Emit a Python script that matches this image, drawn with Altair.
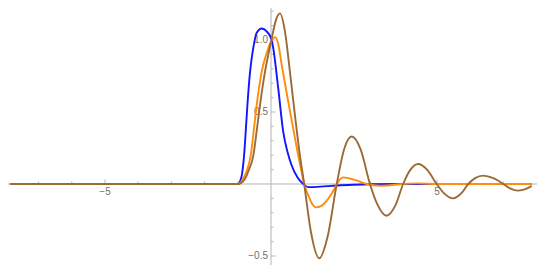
import altair as alt
import pandas as pd

# ---- curve values ----
blue_x = [-7.85, -1.0, -0.93, -0.88, -0.81, -0.76, -0.71, -0.63, -0.53, -0.43, -0.28, -0.13, 0.02, 0.07,
          0.22, 0.37, 0.5, 0.62, 0.8, 0.97, 1.12, 1.4, 1.7, 2.0, 2.5, 3.0, 4.0, 7.85]
blue_y = [0, 0, 0.02, 0.06, 0.20, 0.37, 0.55, 0.78, 0.95, 1.05, 1.08, 1.06, 1.0, 0.94,
          0.66, 0.36, 0.22, 0.13, 0.045, 0.0, -0.022, -0.02, -0.015, -0.01, -0.005, -0.002, 0, 0]

orange_x = [-7.85, -1.0, -0.9, -0.81, -0.73, -0.61, -0.52, -0.43, -0.28, -0.1, 0.0, 0.12, 0.22, 0.32,
            0.52, 0.72, 0.92, 1.0, 1.12, 1.22, 1.35, 1.53, 1.65, 1.8, 1.9, 1.98, 2.18, 2.5, 2.88,
            3.3, 3.98, 4.4, 5.0, 7.85]
orange_y = [0, 0, 0.015, 0.05, 0.09, 0.2, 0.37, 0.55, 0.78, 0.93, 0.99, 1.02, 0.97, 0.83,
            0.57, 0.32, 0.085, 0.0, -0.076, -0.13, -0.162, -0.15, -0.125, -0.075, -0.038, 0.0, 0.046, 0.03, 0.0,
            -0.012, 0.0, 0.004, 0.0, 0]

brown_x = [-7.85, -1.0, -0.9, -0.8, -0.68, -0.53, -0.43, -0.33, -0.18, -0.08, 0.02, 0.15, 0.27, 0.42,
           0.57, 0.72, 0.87, 1.0, 1.2, 1.455, 1.7, 1.98, 2.2, 2.43, 2.7, 2.98, 3.2, 3.48, 3.75, 3.98,
           4.2, 4.43, 4.7, 4.99, 5.2, 5.48, 5.75, 5.94, 6.15, 6.39, 6.7, 7.0, 7.2, 7.44, 7.7, 7.85]
brown_y = [0, 0, 0.008, 0.03, 0.09, 0.2, 0.37, 0.55, 0.78, 0.9, 1.01, 1.14, 1.185, 1.06,
           0.78, 0.48, 0.2, 0.0, -0.33, -0.516, -0.37, 0.0, 0.24, 0.33, 0.24, 0.0, -0.14, -0.22, -0.147, 0.0,
           0.1, 0.139, 0.1, 0.0, -0.062, -0.1, -0.06, 0.0, 0.041, 0.058, 0.04, 0.0, -0.03, -0.046, -0.032, -0.013]

# ---- axis ticks and labels ----
x_minor = [-7, -6, -4, -3, -2, -1, 1, 2, 3, 4, 6, 7]
x_major = [-5, 5]
x_labels = ["\u22125", "5"]
y_minor = [-0.6, -0.4, -0.3, -0.2, -0.1, 0.1, 0.2, 0.3, 0.4, 0.6, 0.7, 0.8, 0.9, 1.1, 1.2]
y_major = [-0.5, 0.5, 1.0]
y_labels = ["\u22120.5", "0.5", "1.0"]

XDOM = [-7.9217, 8.012]
YDOM = [-0.5625, 1.2222]
xs = alt.Scale(domain=XDOM, nice=False, zero=False)
ys = alt.Scale(domain=YDOM, nice=False, zero=False)

AX = "#b4b4b4"


def curve(xv, yv, color):
    df = pd.DataFrame({"x": xv, "y": yv})
    return alt.Chart(df).mark_line(interpolate="monotone", strokeWidth=1.9, color=color, clip=False).encode(
        x=alt.X("x:Q", scale=xs, axis=None),
        y=alt.Y("y:Q", scale=ys, axis=None),
    )


# axis lines
xaxis = alt.Chart(pd.DataFrame({"x": [XDOM[0]], "x2": [XDOM[1]], "y": [0.0]})).mark_rule(
    color=AX, strokeWidth=1).encode(x=alt.X("x:Q", scale=xs, axis=None), x2="x2:Q",
                                    y=alt.Y("y:Q", scale=ys, axis=None))
yaxis = alt.Chart(pd.DataFrame({"x": [0.0], "y": [YDOM[0]], "y2": [YDOM[1]]})).mark_rule(
    color=AX, strokeWidth=1).encode(x=alt.X("x:Q", scale=xs, axis=None),
                                    y=alt.Y("y:Q", scale=ys, axis=None), y2="y2:Q")

xt = pd.DataFrame({"x": x_minor + x_major,
                   "y": [0.0] * (len(x_minor) + len(x_major)),
                   "y2": [2.5 / 144] * len(x_minor) + [4.5 / 144] * len(x_major)})
xticks = alt.Chart(xt).mark_rule(color=AX, strokeWidth=1).encode(
    x=alt.X("x:Q", scale=xs, axis=None), y=alt.Y("y:Q", scale=ys, axis=None), y2="y2:Q")

yt = pd.DataFrame({"y": y_minor + y_major,
                   "x": [0.0] * (len(y_minor) + len(y_major)),
                   "x2": [2.5 / 33.2] * len(y_minor) + [4.5 / 33.2] * len(y_major)})
yticks = alt.Chart(yt).mark_rule(color=AX, strokeWidth=1).encode(
    x=alt.X("x:Q", scale=xs, axis=None), x2="x2:Q", y=alt.Y("y:Q", scale=ys, axis=None))

xl = pd.DataFrame({"x": x_major, "t": x_labels})
xlab = alt.Chart(xl).mark_text(font="Liberation Sans", fontSize=10, color="#707070",
                               baseline="top", align="center", dy=3).encode(
    x=alt.X("x:Q", scale=xs, axis=None), y=alt.value(176), text="t:N")

yl = pd.DataFrame({"y": y_major, "t": y_labels})
ylab = alt.Chart(yl).mark_text(font="Liberation Sans", fontSize=10, color="#707070",
                               baseline="middle", align="right", dx=-3).encode(
    x=alt.value(263), y=alt.Y("y:Q", scale=ys, axis=None), text="t:N")

chart = alt.layer(
    xaxis, yaxis, xticks, yticks, xlab, ylab,
    curve(blue_x, blue_y, "#1414ff"),
    curve(orange_x, orange_y, "#ff8c0a"),
    curve(brown_x, brown_y, "#9b6a35"),
).properties(
    width=529, height=257, padding=0,
    autosize=alt.AutoSizeParams(type="none"),
    background="white",
).configure_view(stroke=None)

chart.save("out.html", embed_options={"renderer": "svg", "actions": False})
